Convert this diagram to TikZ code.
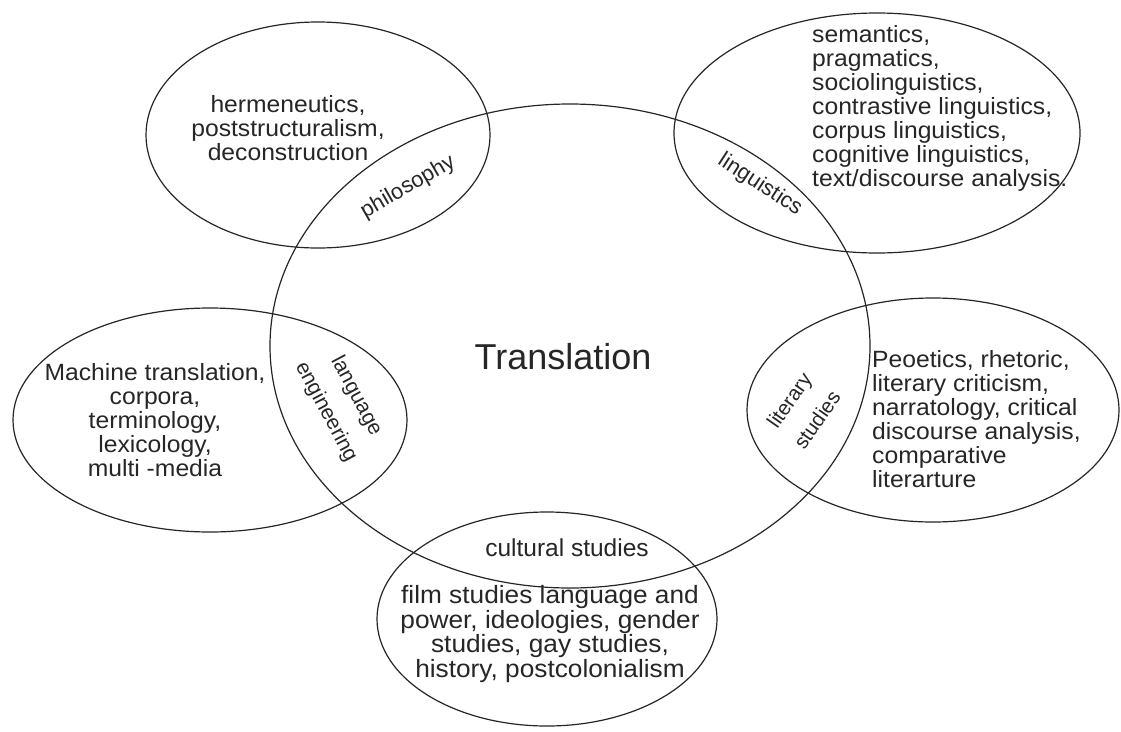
\documentclass[tikz,border=0pt]{standalone}
\usepackage{fontspec}
\setmainfont{Liberation Sans}
\newfontfamily\bodyfont[FakeStretch=1.05]{Liberation Sans}
\usetikzlibrary{shapes.geometric}
\begin{document}
\begin{tikzpicture}[x=1pt,y=-1pt,
  circ/.style={draw=black!85, line width=1.2pt, ellipse, inner sep=0pt},
  txt/.style={font=\bodyfont\fontsize{23.5}{24}\selectfont, text=black!85, inner sep=0pt},
  lab/.style={text=black!85, inner sep=0pt, align=center}]
\useasboundingbox[fill=white] (0,0) rectangle (1121,731);
% ellipses
\node[circ, minimum width=600pt, minimum height=484pt] (trans) at (570,346) {};
\node[circ, minimum width=344pt, minimum height=226pt] (phil) at (318,135) {};
\node[circ, minimum width=406pt, minimum height=240pt] (ling) at (877,133) {};
\node[circ, minimum width=394pt, minimum height=224pt] (leng) at (210,420) {};
\node[circ, minimum width=372pt, minimum height=224pt] (lit) at (933,410) {};
\node[circ, minimum width=340pt, minimum height=214pt] (cult) at (547,619) {};
% centre
\node[font=\fontsize{36}{40}\selectfont, text=black!85] (ttl) at (563,357) {Translation};
% overlap labels
\node[lab, font=\fontsize{22}{24}\selectfont, rotate=30] (philL) at (408,187) {philosophy};
\node[lab, font=\fontsize{22}{24}\selectfont, rotate=-33] (lingL) at (760,185) {linguistics};
\node[lab, font=\fontsize{21}{34}\selectfont, rotate=-62] (lengL) at (341,404) {language\\engineering};
\node[lab, font=\fontsize{20.5}{34}\selectfont, rotate=55] (litL) at (803,410) {literary\\studies};
\node[lab, font=\fontsize{24.5}{26}\selectfont] (cultL) at (567,548) {cultural studies};
% content texts
\node[txt, align=center] (philT) at (288,128) {hermeneutics,\\poststructuralism,\\deconstruction};
\node[txt, align=left, anchor=west] (lingT) at (812,108) {semantics,\\pragmatics,\\sociolinguistics,\\contrastive linguistics,\\corpus linguistics,\\cognitive linguistics,\\text/discourse analysis.};
\node[txt, align=center] (lengT) at (155,420) {Machine translation,\\corpora,\\terminology,\\lexicology,\\multi -media};
\node[txt, align=left, anchor=west] (litT) at (872,419) {Peoetics, rhetoric,\\literary criticism,\\narratology, critical\\discourse analysis,\\comparative\\literarture};
\node[txt, font=\bodyfont\fontsize{25}{24.5}\selectfont, align=center] (cultT) at (550,634) {film studies language and\\power, ideologies, gender\\studies, gay studies,\\history, postcolonialism};
\end{tikzpicture}
\end{document}
